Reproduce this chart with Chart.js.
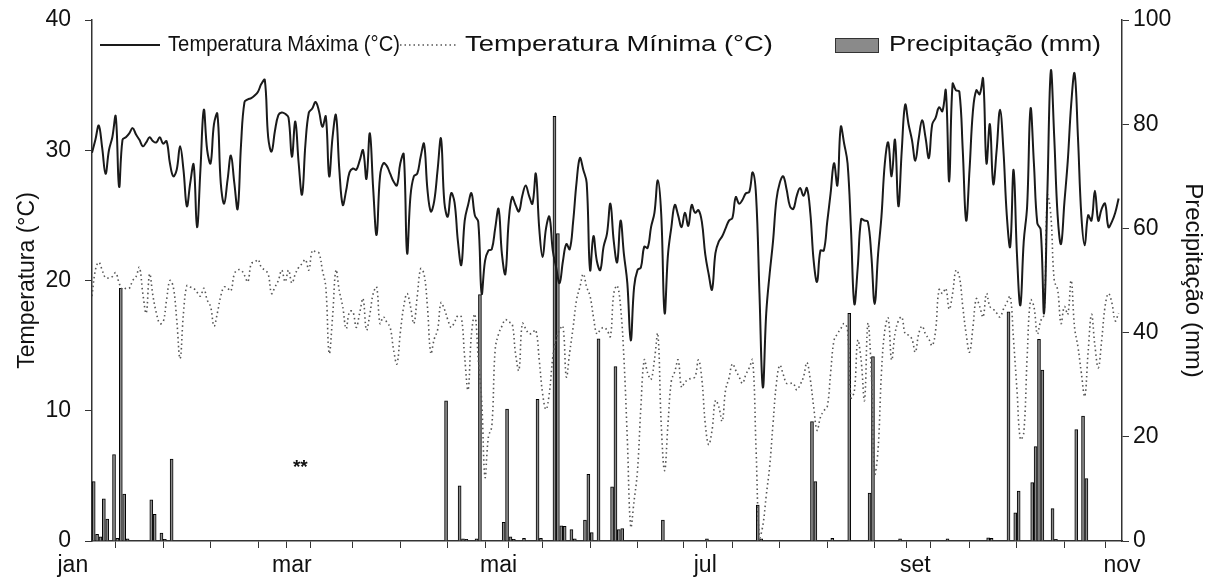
<!DOCTYPE html>
<html>
<head>
<meta charset="utf-8">
<script src="https://cdn.jsdelivr.net/npm/chart.js@4.4.1/dist/chart.umd.min.js"></script>
<style>
  html, body { margin: 0; padding: 0; background: #fff; }
  #wrap { width: 1216px; height: 588px; }
</style>
</head>
<body>
<div id="wrap"><canvas id="clima-chart" width="1216" height="588"></canvas></div>
<script>
// Month ticks (day of year, counted from 1 jan)
const monthDays = [0, 59, 120, 181, 243, 304];
const monthLabels = ['jan', 'mar', 'mai', 'jul', 'set', 'nov'];

// Daily maximum temperature (°C), 1 jan .. 31 out
const tempMax = [
    29.8, 30.8, 31.9, 30.2, 28.2, 30.0, 31.0, 32.6, 27.2, 30.8,
    31.0, 31.3, 31.7, 31.2, 30.8, 30.3, 30.6, 31.0, 30.7, 30.6,
    31.0, 30.5, 30.7, 29.0, 28.0, 28.5, 30.3, 28.5, 25.7, 27.5,
    28.9, 24.1, 28.5, 33.1, 30.0, 29.0, 32.0, 32.8, 27.5, 25.9,
    27.7, 29.6, 27.5, 25.5, 30.5, 33.7, 33.9, 34.0, 34.2, 34.5,
    35.1, 35.4, 31.0, 29.9, 31.5, 32.7, 32.9, 32.8, 32.5, 29.5,
    32.2, 29.0, 26.6, 30.5, 32.9, 33.2, 33.7, 33.0, 31.8, 32.6,
    28.0, 31.0, 32.7, 28.5, 25.8, 26.9, 28.3, 28.6, 28.5, 29.2,
    30.0, 27.8, 31.3, 27.0, 23.5, 28.0, 29.0, 28.8, 28.2, 27.6,
    27.3, 29.0, 29.7, 22.1, 26.5, 28.0, 28.2, 29.5, 30.5, 27.0,
    25.3, 26.1, 28.5, 30.9, 26.0, 24.9, 26.7, 26.0, 23.0, 21.2,
    24.6, 25.8, 26.7, 25.0, 24.5, 19.0, 21.5, 22.3, 22.4, 24.0,
    25.5, 22.0, 20.5, 24.6, 26.4, 25.8, 25.3, 26.5, 27.3, 26.5,
    25.9, 28.2, 24.0, 21.8, 24.0, 24.9, 22.3, 21.0, 19.8, 21.5,
    22.8, 22.4, 24.5, 27.5, 29.4, 28.5, 27.5, 20.8, 23.4, 21.5,
    20.8, 22.6, 23.6, 25.9, 23.0, 21.4, 24.6, 22.0, 19.8, 15.4,
    19.5, 20.8, 21.0, 22.6, 22.5, 24.1, 25.2, 27.7, 25.1, 17.5,
    22.0, 24.1, 25.8, 25.0, 24.1, 25.2, 24.2, 25.8, 25.2, 25.4,
    24.5, 22.0, 20.5, 19.3, 22.1, 23.0, 23.4, 24.0, 24.6, 24.8,
    26.4, 25.9, 26.2, 26.7, 26.8, 28.3, 26.5, 19.0, 11.8, 17.5,
    20.5, 23.0, 26.2, 27.5, 28.0, 27.0, 25.7, 25.5, 26.5, 27.1,
    26.5, 27.1, 25.2, 21.5, 19.9, 22.3, 22.3, 24.5, 26.7, 29.0,
    27.3, 31.8, 30.5, 29.0, 24.0, 18.2, 21.0, 24.7, 24.6, 24.5,
    22.0, 18.2, 22.0, 24.9, 29.0, 30.6, 28.0, 30.8, 25.7, 30.0,
    33.5, 32.0, 30.8, 29.2, 30.9, 32.3, 31.0, 29.4, 32.0, 32.5,
    33.3, 33.0, 34.6, 27.6, 35.1, 34.6, 34.5, 30.0, 24.6, 28.5,
    33.0, 34.6, 34.3, 35.5, 29.0, 32.0, 27.4, 30.0, 33.1, 30.0,
    25.0, 22.6, 28.5, 22.0, 18.1, 23.0, 25.7, 33.2, 29.0, 24.4,
    23.9, 17.5, 27.0, 36.1, 31.0, 25.0, 22.8, 26.0, 29.2, 33.5,
    35.9, 31.0, 25.0, 22.7, 25.0, 24.6, 26.9, 24.6, 25.5, 25.9,
    24.1, 24.5, 25.2, 26.3
];

// Daily minimum temperature (°C)
const tempMin = [
    18.8, 20.8, 21.4, 20.8, 20.2, 20.2, 20.3, 20.6, 19.8, 19.3,
    19.4, 19.4, 20.0, 20.3, 21.0, 19.0, 17.5, 20.5, 18.8, 17.5,
    16.7, 16.8, 18.5, 20.0, 19.5, 17.0, 14.0, 17.5, 19.6, 19.5,
    19.4, 19.1, 18.8, 19.4, 18.5, 18.0, 16.5, 17.5, 18.8, 19.5,
    19.4, 19.2, 20.5, 20.8, 20.8, 20.4, 19.9, 21.3, 21.4, 21.6,
    21.0, 20.8, 20.5, 19.0, 19.5, 20.0, 20.8, 19.9, 20.8, 19.8,
    20.5, 21.0, 21.3, 21.6, 20.8, 22.3, 22.2, 22.1, 20.8, 19.5,
    14.4, 17.2, 20.8, 19.2, 18.0, 16.3, 17.6, 17.6, 16.4, 17.5,
    18.6, 16.2, 17.4, 19.0, 19.5, 16.7, 17.2, 16.8, 16.4, 14.7,
    13.6, 16.0, 18.0, 19.0, 18.0, 16.7, 18.8, 20.9, 20.5, 18.0,
    14.4, 15.5, 16.2, 18.3, 17.8, 17.0, 16.4, 16.8, 17.3, 17.2,
    14.1, 11.6, 15.9, 17.4, 14.0, 10.8, 4.9, 8.0, 8.8, 14.7,
    15.9, 16.5, 17.0, 16.8, 16.7, 14.4, 13.1, 16.7, 16.3, 15.9,
    16.0, 16.2, 13.9, 11.3, 10.1, 11.4, 14.1, 15.5, 16.2, 16.5,
    12.6, 14.5, 16.4, 18.5, 19.5, 20.5, 19.5, 18.8, 17.2, 15.9,
    16.2, 16.4, 16.2, 15.7, 19.0, 19.6, 18.0, 14.0, 7.8, 1.1,
    3.1, 5.4, 10.3, 13.9, 12.9, 12.4, 13.9, 15.9, 9.0, 5.4,
    9.0, 12.3, 13.0, 13.9, 11.8, 12.2, 12.4, 12.5, 12.6, 13.9,
    12.4, 9.0, 7.4, 8.5, 10.8, 10.3, 9.2, 11.6, 12.5, 13.6,
    13.1, 12.6, 12.1, 12.8, 13.3, 13.9, 7.0, 0.3, 1.2, 3.5,
    5.7, 9.0, 12.1, 13.5, 12.8, 12.1, 12.1, 12.1, 11.6, 12.0,
    12.6, 13.7, 12.4, 10.3, 8.5, 9.5, 10.0, 10.3, 12.9, 15.4,
    15.9, 16.3, 16.7, 16.2, 11.0, 11.5, 15.4, 13.9, 10.8, 16.7,
    13.0, 5.2, 7.0, 12.9, 16.2, 17.1, 13.9, 15.9, 16.9, 17.2,
    15.9, 15.8, 15.5, 14.5, 15.9, 16.5, 15.9, 15.5, 15.0, 16.2,
    19.3, 19.0, 19.4, 17.8, 19.0, 20.8, 20.3, 18.0, 15.9, 14.5,
    16.4, 18.6, 18.0, 17.2, 19.0, 18.0, 17.8, 17.5, 17.2, 17.8,
    18.3, 18.8, 15.4, 11.6, 7.8, 8.3, 14.1, 18.5, 18.0, 15.9,
    16.9, 17.4, 26.5, 25.0, 20.0, 19.3, 16.7, 18.0, 17.4, 20.0,
    16.4, 14.9, 12.9, 11.1, 14.5, 17.4, 15.0, 13.3, 15.4, 18.0,
    19.0, 18.3, 16.9, 17.5
];

// Precipitation (mm): day of year and amount
const rainDays = [
    0, 1, 2, 3, 4, 6, 7, 8, 9, 10, 17, 18, 20, 21, 23,
    104, 108, 109, 110, 113, 114, 121, 122, 123, 124, 127, 131, 132,
    136, 137, 138, 139, 141, 142, 145, 146, 147, 149, 153, 154, 155, 156,
    168, 181, 196, 197, 212, 213, 218, 223, 229, 230, 238, 252,
    264, 265, 270, 272, 273, 277, 278, 279, 280, 283, 284, 290, 292, 293
];
const rainMm = [
    11.4, 1.3, 0.8, 8.1, 4.2, 16.6, 0.5, 48.5, 9.0, 0.4, 7.9, 5.1, 1.5, 0.3, 15.7,
    26.9, 10.6, 0.4, 0.3, 0.4, 47.3, 3.6, 25.3, 0.8, 0.3, 0.5, 27.2, 0.5,
    81.5, 59.0, 2.9, 2.8, 2.2, 0.4, 4.0, 12.8, 1.6, 38.8, 10.4, 33.5, 2.2, 2.4,
    4.0, 0.4, 6.9, 0.4, 22.9, 11.4, 0.5, 43.7, 9.2, 35.4, 0.4, 0.4,
    0.6, 0.5, 44.0, 5.4, 9.6, 11.2, 18.1, 38.7, 32.8, 6.2, 0.3, 21.4, 24.0, 12.0
];

const FONT = '"Liberation Sans", Arial, sans-serif';

// draw text squeezed/stretched to a given width (the original legend is uneven)
function fitText(ctx, text, x, y, w) {
    const natural = ctx.measureText(text).width;
    ctx.save();
    ctx.translate(x, y);
    ctx.scale(w / natural, 1);
    ctx.fillText(text, 0, 0);
    ctx.restore();
}

// Legend drawn inside the plot, along the top
const insideLegend = {
    id: 'insideLegend',
    afterDraw(chart) {
        const ctx = chart.ctx;
        const a = chart.chartArea;
        const ds = chart.data.datasets;
        const y = a.top + 25;
        const L = a.left;
        ctx.save();
        ctx.font = '22px ' + FONT;
        ctx.textBaseline = 'middle';
        ctx.fillStyle = '#111';

        ctx.strokeStyle = ds[0].borderColor;
        ctx.lineWidth = ds[0].borderWidth;
        ctx.beginPath();
        ctx.moveTo(L + 8, y);
        ctx.lineTo(L + 68, y);
        ctx.stroke();
        fitText(ctx, ds[0].label, L + 76, y, 232);

        ctx.strokeStyle = ds[1].borderColor;
        ctx.lineWidth = ds[1].borderWidth;
        ctx.setLineDash(ds[1].borderDash);
        ctx.beginPath();
        ctx.moveTo(L + 308, y);
        ctx.lineTo(L + 366, y);
        ctx.stroke();
        ctx.setLineDash([]);
        fitText(ctx, ds[1].label, L + 373, y, 308);

        const bx = L + 743;
        ctx.fillStyle = ds[2].backgroundColor;
        ctx.fillRect(bx, y - 7, 44, 15);
        ctx.strokeStyle = '#333';
        ctx.lineWidth = 1;
        ctx.strokeRect(bx + 0.5, y - 6.5, 43, 14);
        ctx.fillStyle = '#111';
        fitText(ctx, ds[2].label, bx + 54, y, 212);
        ctx.restore();
    }
};

// The "**" mark in the dry period
const starMark = {
    id: 'starMark',
    afterDatasetsDraw(chart) {
        const ctx = chart.ctx;
        const x = chart.scales.x.getPixelForValue(61.5);
        const y = chart.scales.y.getPixelForValue(5.6);
        ctx.save();
        ctx.font = 'bold 19px ' + FONT;
        ctx.textAlign = 'center';
        ctx.textBaseline = 'middle';
        ctx.fillStyle = '#111';
        ctx.fillText('**', x, y);
        ctx.restore();
    }
};

const axisColor = '#333';
const tickFont = { family: FONT, size: 23 };

// keep the plot box fixed: no extra padding for overhanging labels
function fixVertical(width) {
    return function (scale) {
        scale.width = width;
        scale.paddingTop = 0;
        scale.paddingBottom = 0;
    };
}

const ctx = document.getElementById('clima-chart').getContext('2d');
new Chart(ctx, {
    type: 'line',
    data: {
        datasets: [
            {
                label: 'Temperatura Máxima (°C)',
                data: tempMax.map((v, i) => ({ x: i, y: v })),
                borderColor: '#1a1a1a',
                borderWidth: 2,
                pointRadius: 0,
                tension: 0.4,
                yAxisID: 'y'
            },
            {
                label: 'Temperatura Mínima (°C)',
                data: tempMin.map((v, i) => ({ x: i, y: v })),
                borderColor: '#555',
                borderWidth: 1.6,
                borderDash: [1.5, 3],
                pointRadius: 0,
                tension: 0.4,
                yAxisID: 'y'
            },
            {
                type: 'bar',
                label: 'Precipitação (mm)',
                data: rainDays.map((d, i) => ({ x: d + 0.5, y: rainMm[i] })),
                backgroundColor: '#8a8a8a',
                borderColor: '#000',
                borderWidth: 1,
                barThickness: 3,
                yAxisID: 'y1'
            }
        ]
    },
    options: {
        responsive: false,
        animation: false,
        devicePixelRatio: 1,
        layout: { padding: { top: 20, left: 0, right: 0, bottom: 0 } },
        plugins: {
            legend: { display: false },
            tooltip: { enabled: false }
        },
        scales: {
            x: {
                type: 'linear',
                min: 0,
                max: 304,
                offset: false,
                afterBuildTicks(scale) {
                    const vals = new Set(monthDays);
                    for (let d = 0; d <= 304; d += 14) vals.add(d);
                    scale.ticks = [...vals].sort((a, b) => a - b).map(v => ({ value: v }));
                },
                afterFit(scale) {
                    scale.height = 47;
                    scale.paddingLeft = 0;
                    scale.paddingRight = 0;
                },
                ticks: {
                    autoSkip: false,
                    maxRotation: 0,
                    padding: 4,
                    color: '#111',
                    font: tickFont,
                    callback(value) {
                        const i = monthDays.indexOf(value);
                        if (i < 0) return '';
                        // first label sits left of the axis in the original
                        return i === 0 ? monthLabels[i] + '      ' : monthLabels[i];
                    }
                },
                grid: { drawOnChartArea: false, tickLength: 7, color: axisColor },
                border: { color: axisColor, width: 1.5 }
            },
            y: {
                position: 'left',
                min: 0,
                max: 40,
                afterFit: fixVertical(92),
                ticks: { stepSize: 10, padding: 14, color: '#111', font: tickFont },
                grid: { drawOnChartArea: false, tickLength: 7, color: axisColor },
                border: { color: axisColor, width: 1.5 },
                title: {
                    display: true,
                    text: 'Temperatura (°C)',
                    color: '#111',
                    font: tickFont,
                    padding: { top: 14, bottom: 0 }
                }
            },
            y1: {
                position: 'right',
                min: 0,
                max: 100,
                afterFit: fixVertical(94),
                ticks: { stepSize: 20, padding: 4, color: '#111', font: tickFont },
                grid: { drawOnChartArea: false, tickLength: 7, color: axisColor },
                border: { color: axisColor, width: 1.5 },
                title: {
                    display: true,
                    text: 'Precipitação (mm)',
                    color: '#111',
                    font: { family: FONT, size: 24 },
                    padding: { top: 9, bottom: 0 }
                }
            }
        }
    },
    plugins: [insideLegend, starMark]
});
</script>
</body>
</html>
